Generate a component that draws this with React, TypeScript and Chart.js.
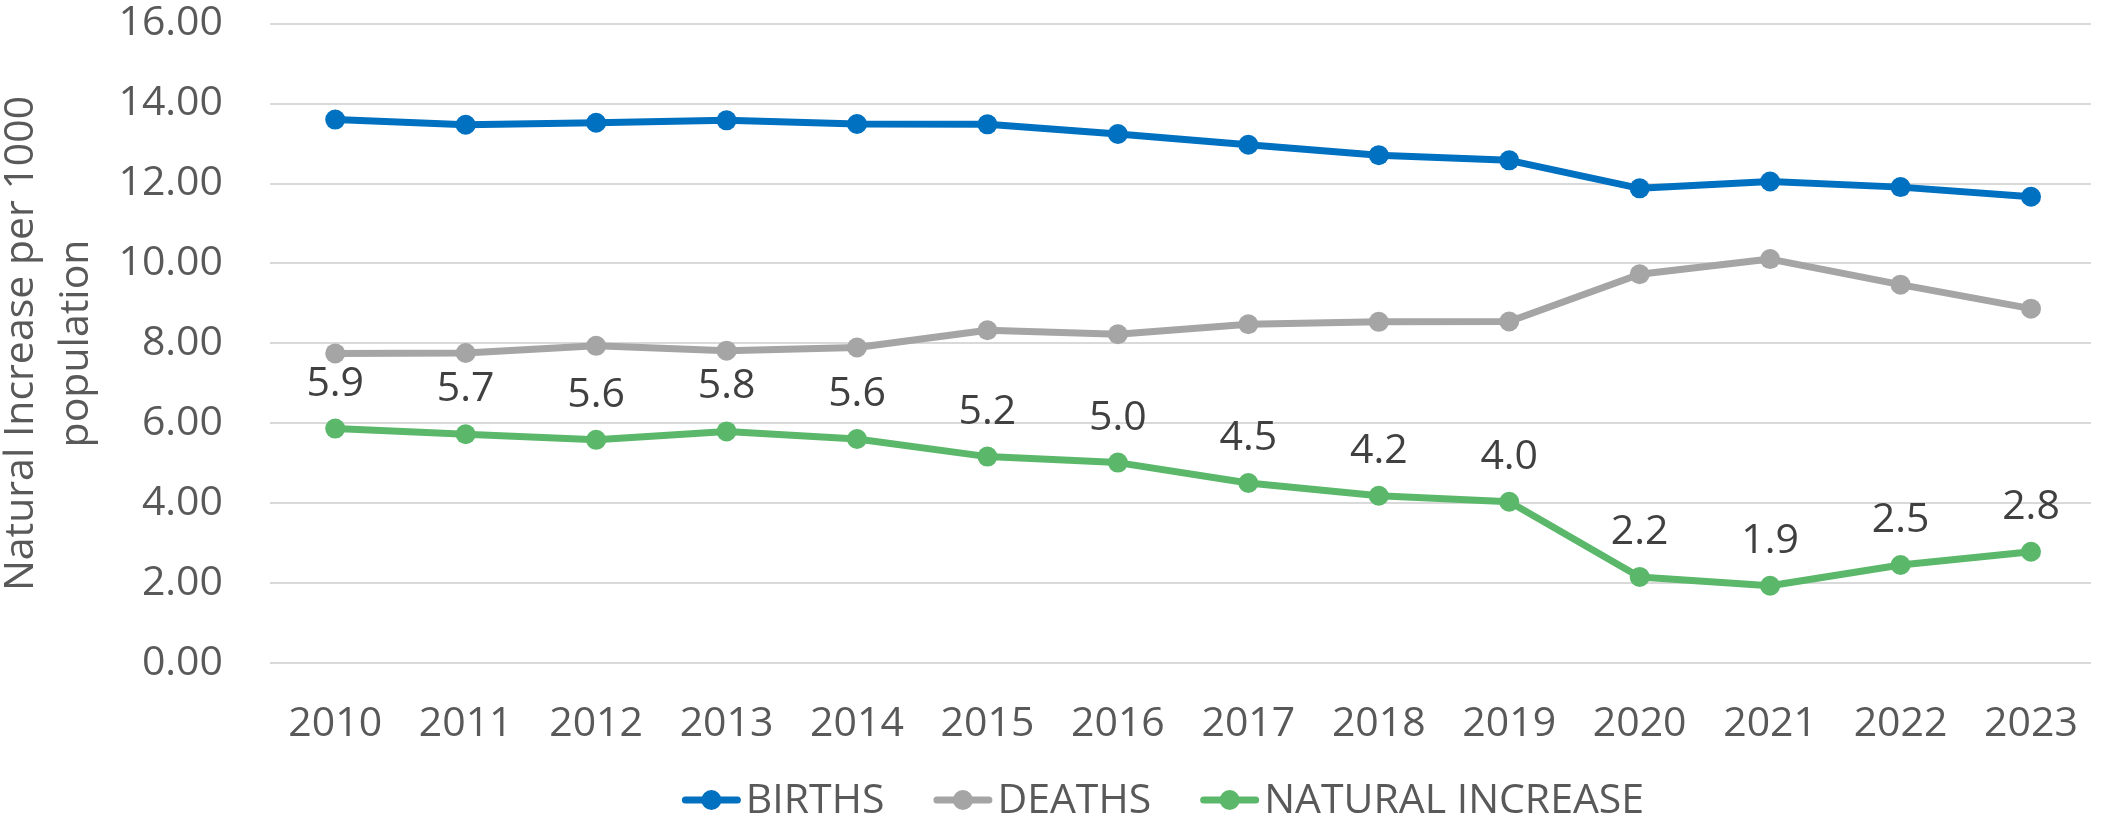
import React, { useEffect, useRef } from "react";
import { Chart, registerables } from "chart.js";

Chart.register(...registerables);

const years = ["2010", "2011", "2012", "2013", "2014", "2015", "2016", "2017", "2018", "2019", "2020", "2021", "2022", "2023"];
const births = [13.6, 13.47, 13.52, 13.58, 13.49, 13.48, 13.24, 12.97, 12.71, 12.58, 11.88, 12.05, 11.91, 11.67];
const deaths = [7.75, 7.76, 7.94, 7.82, 7.9, 8.33, 8.23, 8.48, 8.54, 8.55, 9.73, 10.11, 9.47, 8.87];
const naturalIncrease = [5.87, 5.73, 5.59, 5.8, 5.61, 5.17, 5.02, 4.51, 4.19, 4.04, 2.16, 1.94, 2.46, 2.79];
const seriesNames = ["BIRTHS", "DEATHS", "NATURAL INCREASE"];
const seriesColors = ["#0070C0", "#A5A5A5", "#5BB86B"];
const yTitle = ["Natural Increase per 1000", "population"];
const yMin = 0;
const yMax = 16;
const yStep = 2;

const FONT = "'Open Sans', sans-serif";
const TEXT = "#595959";
const LEGEND_CX = 1163;
const LEGEND_CY = 800;

const valueLabels = {
  id: "valueLabels",
  afterDatasetsDraw(chart: any) {
    const meta = chart.getDatasetMeta(2);
    const ctx = chart.ctx;
    ctx.save();
    ctx.font = `41px ${FONT}`;
    ctx.fillStyle = "#404040";
    ctx.textAlign = "center";
    ctx.textBaseline = "alphabetic";
    meta.data.forEach((pt: any, i: number) => {
      ctx.fillText(naturalIncrease[i].toFixed(1), pt.x, pt.y - 33);
    });
    ctx.restore();
  },
};

const lineLegend = {
  id: "lineLegend",
  afterDraw(chart: any) {
    const ctx = chart.ctx;
    ctx.save();
    ctx.font = `41px ${FONT}`;
    const markerW = 59;
    const textGap = 5;
    const itemGap = 49;
    const names = chart.data.datasets.map((d: any) => d.label as string);
    const widths = names.map((n: string) => ctx.measureText(n).width);
    const total =
      widths.reduce((a: number, w: number) => a + markerW + textGap + w, 0) + itemGap * (names.length - 1);
    let x = LEGEND_CX - total / 2;
    const y = LEGEND_CY;
    names.forEach((name: string, i: number) => {
      const color = chart.data.datasets[i].borderColor;
      ctx.strokeStyle = color;
      ctx.lineWidth = 7;
      ctx.lineCap = "round";
      ctx.beginPath();
      ctx.moveTo(x + 3.5, y);
      ctx.lineTo(x + markerW - 3.5, y);
      ctx.stroke();
      ctx.fillStyle = color;
      ctx.beginPath();
      ctx.arc(x + markerW / 2, y, 10, 0, Math.PI * 2);
      ctx.fill();
      ctx.fillStyle = TEXT;
      ctx.textAlign = "left";
      ctx.textBaseline = "middle";
      ctx.fillText(name, x + markerW + textGap, y + 1);
      x += markerW + textGap + widths[i] + itemGap;
    });
    ctx.restore();
  },
};

export default function App() {
  const ref = useRef<HTMLCanvasElement>(null);

  useEffect(() => {
    if (!ref.current) return;
    const seriesValues = [births, deaths, naturalIncrease];
    const chart = new Chart(ref.current, {
      type: "line",
      data: {
        datasets: seriesValues.map((vals, s) => ({
          label: seriesNames[s],
          data: vals.map((v, i) => ({ x: i, y: v })),
          borderColor: seriesColors[s],
          backgroundColor: seriesColors[s],
          pointBackgroundColor: seriesColors[s],
          pointBorderWidth: 0,
          borderWidth: 7,
          pointRadius: 10,
          pointHoverRadius: 10,
          tension: 0,
          borderJoinStyle: "round",
          borderCapStyle: "round",
        })),
      },
      options: {
        responsive: false,
        animation: false,
        devicePixelRatio: 1,
        layout: { padding: { top: 23.6, left: 0, right: 0, bottom: 0 } },
        scales: {
          x: {
            type: "linear",
            min: -0.5,
            max: 13.46,
            afterBuildTicks: (s: any) => {
              s.ticks = years.map((_, i) => ({ value: i }));
            },
            afterFit: (s: any) => {
              s.height = 158.7;
            },
            grid: {
              display: true,
              drawOnChartArea: false,
              drawTicks: true,
              tickLength: 36,
              color: "rgba(0,0,0,0)",
              tickColor: "rgba(0,0,0,0)",
            },
            border: { display: false },
            ticks: {
              padding: 0,
              autoSkip: false,
              maxRotation: 0,
              minRotation: 0,
              color: TEXT,
              font: { family: FONT, size: 41, lineHeight: 1.2 },
              callback: (v: any) => years[v] ?? "",
            },
          },
          y: {
            min: yMin,
            max: yMax,
            afterFit: (s: any) => {
              s.width = 270;
            },
            ticks: {
              stepSize: yStep,
              padding: 0,
              color: TEXT,
              font: { family: FONT, size: 41, lineHeight: 1 },
              callback: (v: any) => Number(v).toFixed(2),
            },
            grid: {
              color: "#D9D9D9",
              lineWidth: 2,
              drawTicks: true,
              tickLength: 47,
              tickColor: "rgba(0,0,0,0)",
            },
            border: { display: false },
            title: {
              display: true,
              text: yTitle,
              color: TEXT,
              font: { family: FONT, size: 41, lineHeight: 1.34 },
              padding: { top: -6, bottom: 0 },
            },
          },
        },
        plugins: {
          tooltip: { enabled: false },
          legend: { display: false },
        },
      } as any,
      plugins: [valueLabels, lineLegend],
    });
    let alive = true;
    if ((document as any).fonts) {
      (document as any).fonts.load(`41px "Open Sans"`).then(() => {
        if (alive) chart.update();
      });
    }
    return () => {
      alive = false;
      chart.destroy();
    };
  }, []);

  return (
    <div style={{ position: "absolute", left: 0, top: 0, width: 2101, height: 822, background: "#fff" }}>
      <canvas ref={ref} width={2101} height={822} style={{ display: "block" }} />
    </div>
  );
}
